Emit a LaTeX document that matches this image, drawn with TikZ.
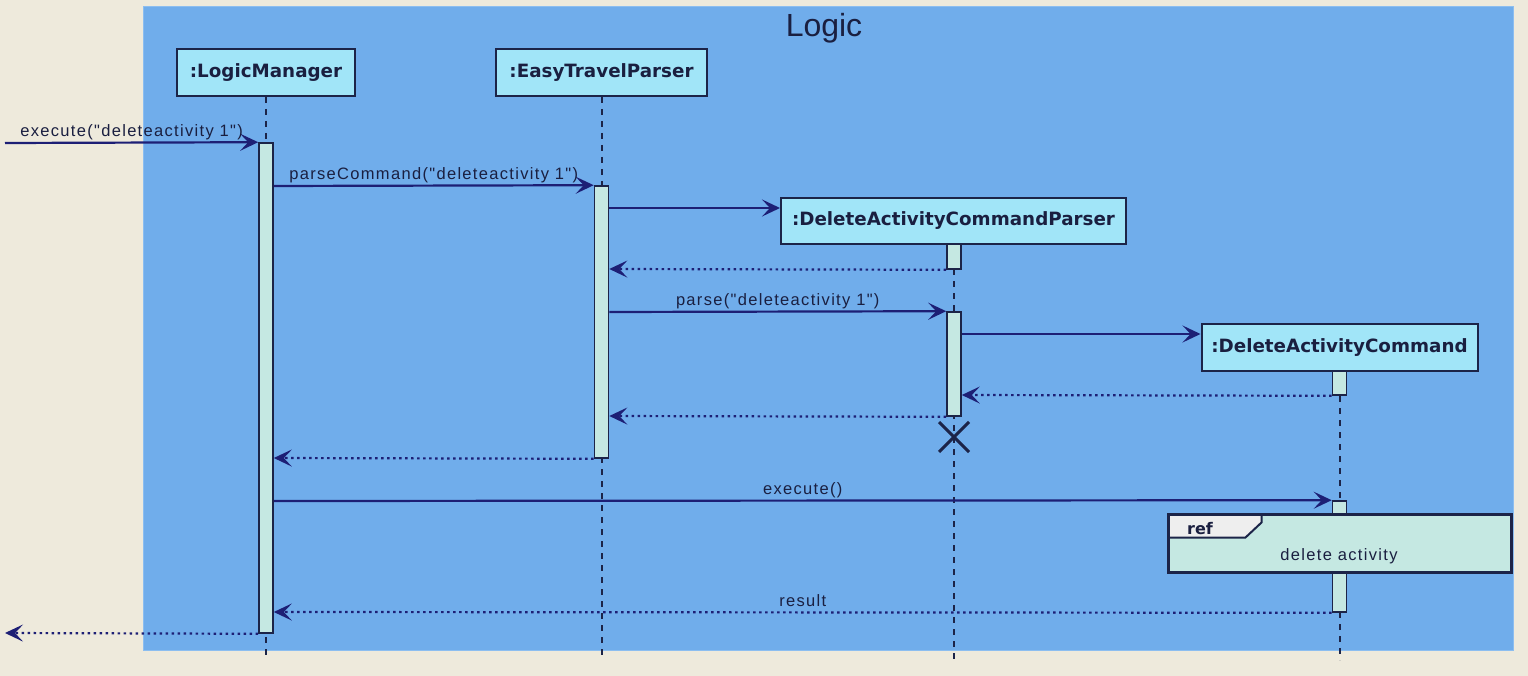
\documentclass[tikz,border=0pt]{standalone}
\usepackage{fontspec}
\usetikzlibrary{arrows.meta,calc}
\newfontfamily\partfont{DejaVu Sans}
\newfontfamily\lblfont{Liberation Sans}[LetterSpace=8]
\newfontfamily\titlefont{Liberation Sans}
\definecolor{bgc}{RGB}{238,234,220}
\definecolor{framec}{RGB}{112,173,235}
\definecolor{framed}{RGB}{140,190,240}
\definecolor{partc}{RGB}{161,229,248}
\definecolor{actc}{RGB}{197,232,226}
\definecolor{bordc}{RGB}{28,36,72}
\definecolor{arrc}{RGB}{29,31,117}
\definecolor{txtc}{RGB}{26,31,64}
\definecolor{tabc}{RGB}{238,238,238}
\begin{document}
\begin{tikzpicture}[x=1pt,y=-1pt,
  part/.style={draw=bordc, fill=partc, line width=2pt, inner sep=0pt, font=\partfont\bfseries\fontsize{18.3}{21}\selectfont, text=txtc},
  actbar/.style={draw=bordc, fill=actc, line width=1.6pt, minimum width=14pt, inner sep=0pt},
  life/.style={draw=bordc, line width=2pt, dash pattern=on 6pt off 6pt},
  msg/.style={draw=arrc, line width=2.2pt, -{Stealth[length=18pt,width=17pt,inset=8pt]}},
  ret/.style={msg, dash pattern=on 2.5pt off 3.5pt},
  lbl/.style={font=\lblfont\fontsize{16.5}{19}\selectfont, text=txtc, inner sep=0pt, anchor=base, yshift=6pt}
]
\fill[bgc] (0,0) rectangle (1528,676);
\useasboundingbox (0,0) rectangle (1528,676);
\draw[fill=framec, draw=framed, line width=1pt] (143,7) rectangle (1513,650);
\node[font=\titlefont\fontsize{32}{36}\selectfont, text=txtc, anchor=base, inner sep=0pt] (title) at (824,36.5) {Logic};

% participants
\node[part, minimum width=178pt, minimum height=47pt] (lm) at (266,72.5) {:LogicManager};
\node[part, minimum width=211pt, minimum height=47pt] (etp) at (601.5,72.5) {:EasyTravelParser};
\node[part, minimum width=345pt, minimum height=46pt] (dacp) at (953.5,221) {:DeleteActivityCommandParser};
\node[part, minimum width=276pt, minimum height=47pt] (dac) at (1339.5,347.5) {:DeleteActivityCommand};

% lifeline ends
\coordinate (lmend) at (266,659);
\coordinate (etend) at (601.5,659);
\coordinate (dpend) at (954,659);
\coordinate (dcend) at (1339.5,660);
\draw[life] (lm.south) -- (lmend);
\draw[life] (etp.south) -- (etend);
\draw[life] (dacp.south -| dpend) -- (dpend);
\draw[life] (dac.south) -- (dcend);

% activation bars
\node[actbar, minimum height=490pt] (lmA) at (266,388) {};
\node[actbar, minimum height=272pt] (etA) at (601.5,322) {};
\node[actbar, minimum height=25pt] (dpA1) at (954,256.5) {};
\node[actbar, minimum height=104pt] (dpA2) at (954,364) {};
\node[actbar, minimum height=24pt] (dcA1) at (1339.5,383) {};
\node[actbar, minimum height=111pt] (dcA2) at (1339.5,556.5) {};

% message levels
\coordinate (in) at (5,143);
\coordinate (out) at (5,633);
\coordinate (m2) at (0,186);
\coordinate (m3) at (0,208);
\coordinate (m4) at (0,269);
\coordinate (m5) at (0,312);
\coordinate (m6) at (0,334);
\coordinate (m7) at (0,395);
\coordinate (m8) at (0,416);
\coordinate (m9) at (0,458);
\coordinate (m10) at (0,501);
\coordinate (m11) at (0,612);

\draw[msg] (in) -- node[lbl] {execute("deleteactivity 1")} (lmA.north west);
\draw[msg] (lmA.east |- m2) -- node[lbl] {parseCommand("deleteactivity 1")} (etA.north west);
\draw[msg] (etA.east |- m3) -- (dacp.west |- m3);
\draw[ret] (dpA1.south west) -- (etA.east |- m4);
\draw[msg] (etA.east |- m5) -- node[lbl] {parse("deleteactivity 1")} (dpA2.north west);
\draw[msg] (dpA2.east |- m6) -- (dac.west |- m6);
\draw[ret] (dcA1.south west) -- (dpA2.east |- m7);
\draw[ret] (dpA2.south west) -- (etA.east |- m8);

% destroy mark
\coordinate (xm) at (954,437);
\draw[draw=bordc, line width=3pt] ($(xm)+(-15,-15)$) -- ($(xm)+(15,15)$) ($(xm)+(-15,15)$) -- ($(xm)+(15,-15)$);

\draw[ret] (etA.south west) -- (lmA.east |- m9);
\draw[msg] (lmA.east |- m10) -- node[lbl] {execute()} (dcA2.north west);

% ref box
\node[fill=actc, minimum width=343pt, minimum height=58pt, anchor=north west, inner sep=0pt] (ref) at (1168.5,514.5) {};
\draw[fill=tabc, draw=bordc, line width=2pt] (ref.north west) -- ++(93,0) -- ++(0,8) -- ++(-16,15) -- ($(ref.north west)+(0,23)$) -- cycle;
\draw[draw=bordc, line width=3pt] (ref.north west) rectangle (ref.south east);
\node[font=\partfont\bfseries\fontsize{16}{19}\selectfont, text=txtc, anchor=base west, inner sep=0pt] (reft) at (1187,534) {ref};
\node[font=\lblfont\fontsize{16.5}{19}\selectfont, text=txtc, anchor=base, inner sep=0pt] (refd) at (1339,560) {delete activity};

\draw[ret] (dcA2.south west) -- node[lbl] {result} (lmA.east |- m11);
\draw[ret] (lmA.south west) -- (out);
\end{tikzpicture}
\end{document}
